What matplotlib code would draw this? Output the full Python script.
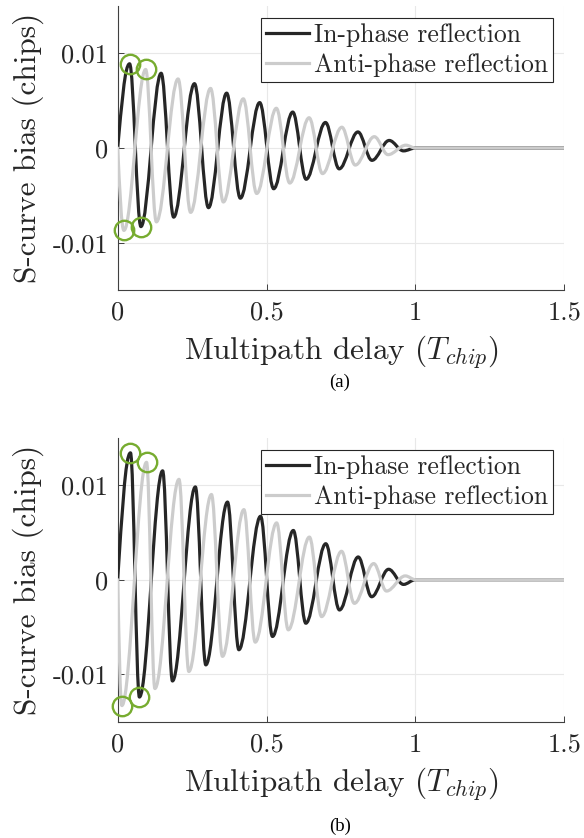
#!/usr/bin/env python3
"""
S-curve multipath bias vs multipath delay, two panels (a) and (b).
In-phase and anti-phase reflections, first extrema circled.
"""

import matplotlib
matplotlib.use("Agg")
import matplotlib.pyplot as plt
from matplotlib.path import Path
from matplotlib.patches import PathPatch

# ---- data (extrema of each curve) ----
# panel (a)
a_inphase_x = [0.040, 0.078, 0.146, 0.188, 0.258, 0.305, 0.366, 0.412, 0.477,
               0.524, 0.588, 0.633, 0.698, 0.744, 0.807, 0.854, 0.912, 0.960]
a_inphase_y = [0.0089, -0.0083, 0.0079, -0.0073, 0.0068, -0.0063, 0.0058, -0.0053, 0.0048,
               -0.0043, 0.0038, -0.0033, 0.0027, -0.0022, 0.0017, -0.0013, 0.0008, -0.0003]
a_anti_x = [0.021, 0.094, 0.130, 0.203, 0.245, 0.312, 0.355, 0.422, 0.467,
            0.533, 0.578, 0.643, 0.688, 0.753, 0.798, 0.862, 0.908, 0.968]
a_anti_y = [-0.0087, 0.0083, -0.0078, 0.0073, -0.0068, 0.0063, -0.0057, 0.0052, -0.0048,
            0.0042, -0.0037, 0.0032, -0.0027, 0.0022, -0.0018, 0.0012, -0.0007, 0.0003]

# panel (b)
b_inphase_x = [0.043, 0.073, 0.151, 0.184, 0.261, 0.296, 0.369, 0.407, 0.480,
               0.520, 0.590, 0.632, 0.699, 0.745, 0.808, 0.853, 0.910, 0.960]
b_inphase_y = [0.0134, -0.0124, 0.0115, -0.0107, 0.0098, -0.0090, 0.0082, -0.0074, 0.0067,
               -0.0060, 0.0052, -0.0046, 0.0038, -0.0032, 0.0024, -0.0018, 0.0011, -0.0005]
b_anti_x = [0.014, 0.097, 0.125, 0.206, 0.239, 0.315, 0.352, 0.424, 0.462,
            0.534, 0.573, 0.644, 0.685, 0.752, 0.795, 0.860, 0.903, 0.966]
b_anti_y = [-0.0133, 0.0124, -0.0115, 0.0106, -0.0097, 0.0090, -0.0081, 0.0074, -0.0066,
            0.0060, -0.0053, 0.0045, -0.0039, 0.0030, -0.0025, 0.0017, -0.0012, 0.0004]

# curves start at delay 0, die out at 1 chip, flat up to 1.5
start_delay = 0.0
end_delay = 1.0
tail_delay = 1.5

# how many extrema of each curve get a green circle
n_circled = 2

series_labels = ["In-phase reflection", "Anti-phase reflection"]
panel_tags = ["(a)", "(b)"]
x_ticks = [0, 0.5, 1, 1.5]
x_ticklabels = ["0", "0.5", "1", "1.5"]
y_ticks = [-0.01, 0, 0.01]
y_ticklabels = ["-0.01", "0", "0.01"]

DARK = "#262626"
LIGHT = "#cccccc"
GREEN = "#77ac30"
LW = 2.3

plt.rcParams["font.family"] = ["cmr10", "DejaVu Serif"]
plt.rcParams["mathtext.fontset"] = "cm"
plt.rcParams["axes.unicode_minus"] = False
plt.rcParams["axes.formatter.use_mathtext"] = True


def wave_path(xs, ys):
    """Smooth path through the extrema (flat tangent at each extremum)."""
    verts = [(start_delay, 0.0)]
    codes = [Path.MOVETO]
    x0, y0 = start_delay, 0.0
    knots = list(zip(xs, ys)) + [(end_delay, 0.0)]
    for i, (x1, y1) in enumerate(knots):
        dx = x1 - x0
        if i == 0:
            c1 = (x0 + 0.33 * dx, y0 + 0.5 * (y1 - y0))
            c2 = (x1 - 0.40 * dx, y1)
        else:
            c1 = (x0 + 0.36 * dx, y0)
            c2 = (x1 - 0.36 * dx, y1)
        verts += [c1, c2, (x1, y1)]
        codes += [Path.CURVE4] * 3
        x0, y0 = x1, y1
    verts.append((tail_delay, 0.0))
    codes.append(Path.LINETO)
    return Path(verts, codes)


def draw_panel(ax, inphase_x, inphase_y, anti_x, anti_y, legend_top):
    for xs, ys, col, z in [(inphase_x, inphase_y, DARK, 3), (anti_x, anti_y, LIGHT, 4)]:
        patch = PathPatch(wave_path(xs, ys), facecolor="none", edgecolor=col,
                          lw=LW, capstyle="round", joinstyle="round", zorder=z)
        ax.add_patch(patch)

    # circles on the first extrema
    for xs, ys in [(inphase_x, inphase_y), (anti_x, anti_y)]:
        ax.plot(xs[:n_circled], ys[:n_circled], "o", ms=14, mfc="none",
                mec=GREEN, mew=1.7, zorder=5, clip_on=False)

    # legend proxies
    ax.plot([], [], color=DARK, lw=LW, label=series_labels[0])
    ax.plot([], [], color=LIGHT, lw=LW, label=series_labels[1])

    ax.set_xlim(0, 1.5)
    ax.set_ylim(-0.015, 0.015)
    ax.set_xticks(x_ticks)
    ax.set_xticklabels(x_ticklabels)
    ax.set_yticks(y_ticks)
    ax.set_yticklabels(y_ticklabels)

    ax.grid(True, color="#e8e8e8", lw=0.8)
    ax.set_axisbelow(True)
    for side in ["top", "right"]:
        ax.spines[side].set_visible(False)
    for side in ["left", "bottom"]:
        ax.spines[side].set_color("#404040")
        ax.spines[side].set_linewidth(0.8)
    ax.tick_params(direction="in", length=4, width=0.7, color="#404040",
                   labelsize=19, labelcolor=DARK)
    ax.tick_params(axis="y", pad=7)
    ax.tick_params(axis="x", pad=8)

    ax.set_xlabel(r"Multipath delay ($T_{chip}$)", fontsize=22.5, color=DARK)
    ax.set_ylabel("S-curve bias (chips)", fontsize=22.5, color=DARK)
    ax.xaxis.set_label_coords(0.5, -0.155)
    ax.yaxis.set_label_coords(-0.165, 0.5)

    leg = ax.legend(loc="upper right", bbox_to_anchor=(0.975, legend_top),
                    borderaxespad=0, fontsize=18.5, frameon=True, fancybox=False,
                    framealpha=1, edgecolor=DARK, borderpad=0.2,
                    handlelength=1.65, handletextpad=0.2, labelspacing=0.25)
    leg.get_frame().set_linewidth(0.8)
    for t in leg.get_texts():
        t.set_color(DARK)


def main():
    fig = plt.figure(figsize=(5.84, 8.38), dpi=100)
    ax_a = fig.add_axes([0.2015, 0.6539, 0.7647, 0.3389])
    ax_b = fig.add_axes([0.2015, 0.1388, 0.7647, 0.3389])

    draw_panel(ax_a, a_inphase_x, a_inphase_y, a_anti_x, a_anti_y, 0.957)
    draw_panel(ax_b, b_inphase_x, b_inphase_y, b_anti_x, b_anti_y, 0.957)

    cap_font = ["Liberation Serif", "DejaVu Serif"]
    fig.text(340 / 584, 1 - 382 / 838, panel_tags[0], ha="center", va="center",
             family=cap_font, fontsize=13.5, color="black")
    fig.text(340 / 584, 1 - 826 / 838, panel_tags[1], ha="center", va="center",
             family=cap_font, fontsize=13.5, color="black")

    fig.savefig("out.png", dpi=100)


if __name__ == "__main__":
    main()
